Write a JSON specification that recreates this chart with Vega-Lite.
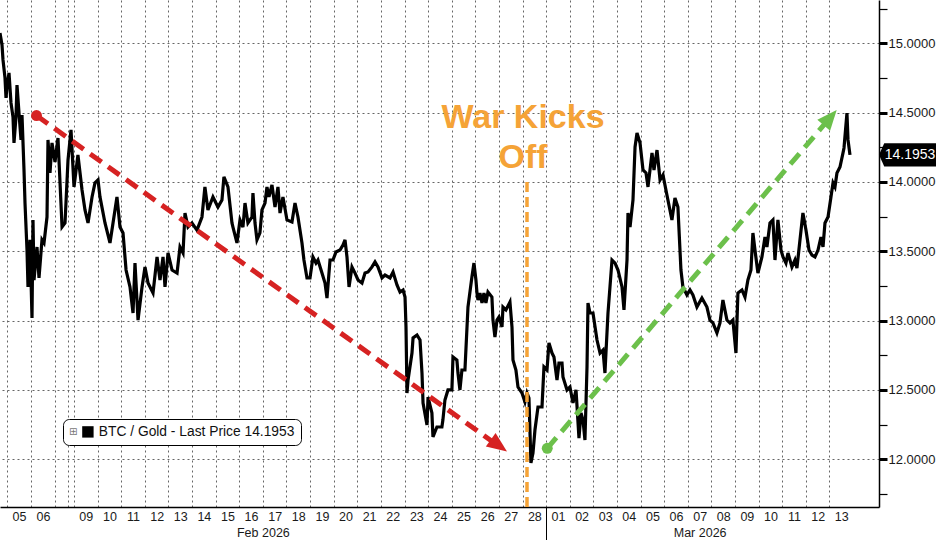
{
  "$schema": "https://vega.github.io/schema/vega-lite/v6.json",
  "width": 879,
  "height": 507,
  "padding": 0,
  "autosize": {"type": "pad"},
  "background": "white",
  "config": {"view": {"stroke": null}, "font": "Liberation Sans"},
  "datasets": {
    "btc": [
      {"t":"2026-02-04T17:00","v":15.074},{"t":"2026-02-04T19:00","v":14.988},{"t":"2026-02-04T20:00","v":14.880},{"t":"2026-02-04T22:00","v":14.750},{"t":"2026-02-04T23:00","v":14.606},
      {"t":"2026-02-05T00:00","v":14.685},{"t":"2026-02-05T02:00","v":14.786},{"t":"2026-02-05T04:00","v":14.570},{"t":"2026-02-05T06:00","v":14.469},{"t":"2026-02-05T07:00","v":14.281},
      {"t":"2026-02-05T09:00","v":14.469},{"t":"2026-02-05T10:00","v":14.699},{"t":"2026-02-05T12:00","v":14.497},{"t":"2026-02-05T14:00","v":14.303},{"t":"2026-02-05T15:00","v":14.483},
      {"t":"2026-02-05T17:00","v":14.086},{"t":"2026-02-05T18:00","v":13.848},{"t":"2026-02-05T20:00","v":13.509},{"t":"2026-02-05T21:00","v":13.243},{"t":"2026-02-05T23:00","v":13.582},
      {"t":"2026-02-06T01:00","v":13.019},{"t":"2026-02-06T02:00","v":13.726},{"t":"2026-02-06T03:00","v":13.293},{"t":"2026-02-06T06:00","v":13.531},{"t":"2026-02-06T08:00","v":13.308},
      {"t":"2026-02-06T11:00","v":13.582},{"t":"2026-02-06T13:00","v":13.560},{"t":"2026-02-06T16:00","v":13.747},{"t":"2026-02-06T17:00","v":14.303},{"t":"2026-02-06T19:00","v":14.065},
      {"t":"2026-02-06T21:00","v":14.281},{"t":"2026-02-07T00:00","v":14.144},{"t":"2026-02-07T05:30","v":14.317},{"t":"2026-02-07T13:00","v":13.675},{"t":"2026-02-07T18:30","v":13.704},
      {"t":"2026-02-08T00:00","v":14.158},{"t":"2026-02-08T12:00","v":14.375},{"t":"2026-02-09T00:00","v":13.964},
      {"t":"2026-02-09T04:00","v":14.194},{"t":"2026-02-09T08:10","v":13.942},{"t":"2026-02-09T11:10","v":13.798},{"t":"2026-02-09T14:15","v":13.704},{"t":"2026-02-09T18:20","v":13.892},{"t":"2026-02-09T21:20","v":13.993},
      {"t":"2026-02-10T00:25","v":14.014},{"t":"2026-02-10T02:25","v":13.892},{"t":"2026-02-10T07:30","v":13.704},{"t":"2026-02-10T12:35","v":13.560},{"t":"2026-02-10T15:40","v":13.704},{"t":"2026-02-10T19:40","v":13.892},{"t":"2026-02-10T22:45","v":13.675},
      {"t":"2026-02-11T01:50","v":13.632},{"t":"2026-02-11T04:55","v":13.365},{"t":"2026-02-11T08:55","v":13.243},{"t":"2026-02-11T12:00","v":13.055},{"t":"2026-02-11T14:00","v":13.415},{"t":"2026-02-11T17:05","v":13.004},{"t":"2026-02-11T21:10","v":13.243},
      {"t":"2026-02-12T00:10","v":13.387},{"t":"2026-02-12T03:15","v":13.271},{"t":"2026-02-12T08:20","v":13.199},{"t":"2026-02-12T12:25","v":13.459},{"t":"2026-02-12T15:25","v":13.293},{"t":"2026-02-12T18:30","v":13.459},{"t":"2026-02-12T20:30","v":13.243},{"t":"2026-02-12T23:35","v":13.488},
      {"t":"2026-02-13T03:40","v":13.365},{"t":"2026-02-13T08:45","v":13.343},{"t":"2026-02-13T11:45","v":13.531},{"t":"2026-02-13T14:50","v":13.488},{"t":"2026-02-13T16:50","v":13.776},{"t":"2026-02-13T19:55","v":13.675},{"t":"2026-02-13T23:55","v":13.704},
      {"t":"2026-02-14T05:00","v":13.653},{"t":"2026-02-14T10:05","v":13.747},{"t":"2026-02-14T13:05","v":13.964},{"t":"2026-02-14T16:10","v":13.798},{"t":"2026-02-14T21:15","v":13.892},
      {"t":"2026-02-15T02:20","v":13.819},{"t":"2026-02-15T06:25","v":13.870},{"t":"2026-02-15T08:25","v":14.036},{"t":"2026-02-15T12:30","v":13.964},{"t":"2026-02-15T16:35","v":13.704},{"t":"2026-02-15T17:35","v":13.675},{"t":"2026-02-15T21:40","v":13.560},
      {"t":"2026-02-16T00:45","v":13.726},{"t":"2026-02-16T03:45","v":13.675},{"t":"2026-02-16T05:50","v":13.848},{"t":"2026-02-16T08:50","v":13.704},{"t":"2026-02-16T12:55","v":13.747},{"t":"2026-02-16T13:55","v":13.920},{"t":"2026-02-16T16:00","v":13.704},{"t":"2026-02-16T18:00","v":13.582},{"t":"2026-02-16T21:00","v":13.632},{"t":"2026-02-16T23:05","v":13.798},
      {"t":"2026-02-17T02:10","v":13.848},{"t":"2026-02-17T04:10","v":13.964},{"t":"2026-02-17T06:10","v":13.892},{"t":"2026-02-17T09:15","v":13.978},{"t":"2026-02-17T12:20","v":13.819},{"t":"2026-02-17T15:20","v":13.964},{"t":"2026-02-17T17:25","v":13.776},{"t":"2026-02-17T20:25","v":13.892},
      {"t":"2026-02-18T00:30","v":13.726},{"t":"2026-02-18T05:35","v":13.711},{"t":"2026-02-18T08:40","v":13.848},{"t":"2026-02-18T11:40","v":13.747},{"t":"2026-02-18T15:45","v":13.560},{"t":"2026-02-18T17:45","v":13.437},{"t":"2026-02-18T20:50","v":13.308},{"t":"2026-02-18T23:55","v":13.308},
      {"t":"2026-02-19T02:55","v":13.459},{"t":"2026-02-19T06:00","v":13.415},{"t":"2026-02-19T08:00","v":13.437},{"t":"2026-02-19T12:05","v":13.343},{"t":"2026-02-19T15:10","v":13.271},{"t":"2026-02-19T17:10","v":13.163},{"t":"2026-02-19T20:15","v":13.437},{"t":"2026-02-19T23:15","v":13.437},
      {"t":"2026-02-20T02:20","v":13.495},{"t":"2026-02-20T06:25","v":13.509},{"t":"2026-02-20T09:25","v":13.545},{"t":"2026-02-20T11:30","v":13.582},{"t":"2026-02-20T13:30","v":13.459},{"t":"2026-02-20T15:35","v":13.243},{"t":"2026-02-20T18:35","v":13.387},{"t":"2026-02-20T21:40","v":13.343},
      {"t":"2026-02-21T00:45","v":13.293},{"t":"2026-02-21T04:45","v":13.271},{"t":"2026-02-21T07:50","v":13.343},{"t":"2026-02-21T10:55","v":13.351},{"t":"2026-02-21T14:55","v":13.387},{"t":"2026-02-21T18:00","v":13.423},{"t":"2026-02-21T21:00","v":13.387},
      {"t":"2026-02-22T01:05","v":13.308},{"t":"2026-02-22T04:10","v":13.329},{"t":"2026-02-22T09:15","v":13.308},{"t":"2026-02-22T12:20","v":13.351},{"t":"2026-02-22T16:20","v":13.257},{"t":"2026-02-22T19:25","v":13.206},{"t":"2026-02-22T22:30","v":13.221},
      {"t":"2026-02-23T00:30","v":13.170},{"t":"2026-02-23T01:30","v":12.954},{"t":"2026-02-23T02:30","v":12.478},{"t":"2026-02-23T03:35","v":12.572},{"t":"2026-02-23T07:35","v":12.766},{"t":"2026-02-23T08:40","v":12.875},{"t":"2026-02-23T12:40","v":12.896},{"t":"2026-02-23T15:45","v":12.860},{"t":"2026-02-23T17:45","v":12.622},{"t":"2026-02-23T18:50","v":12.406},{"t":"2026-02-23T22:50","v":12.247},{"t":"2026-02-23T23:55","v":12.449},
      {"t":"2026-02-24T03:50","v":12.334},{"t":"2026-02-24T04:55","v":12.161},{"t":"2026-02-24T08:55","v":12.233},{"t":"2026-02-24T14:00","v":12.233},{"t":"2026-02-24T15:00","v":12.283},{"t":"2026-02-24T17:05","v":12.428},{"t":"2026-02-24T20:10","v":12.500},
      {"t":"2026-02-25T00:10","v":12.500},{"t":"2026-02-25T01:15","v":12.738},{"t":"2026-02-25T05:15","v":12.716},{"t":"2026-02-25T06:20","v":12.622},{"t":"2026-02-25T08:20","v":12.500},{"t":"2026-02-25T10:20","v":12.644},{"t":"2026-02-25T13:25","v":12.644},{"t":"2026-02-25T16:30","v":13.098},{"t":"2026-02-25T20:30","v":13.315},{"t":"2026-02-25T22:35","v":13.415},
      {"t":"2026-02-26T00:35","v":13.293},{"t":"2026-02-26T01:40","v":13.199},{"t":"2026-02-26T02:40","v":13.149},{"t":"2026-02-26T04:40","v":13.199},{"t":"2026-02-26T06:45","v":13.127},{"t":"2026-02-26T08:45","v":13.199},{"t":"2026-02-26T10:45","v":13.127},{"t":"2026-02-26T12:50","v":13.206},{"t":"2026-02-26T16:50","v":13.170},{"t":"2026-02-26T17:55","v":13.004},{"t":"2026-02-26T19:55","v":12.882},{"t":"2026-02-26T22:00","v":13.004},
      {"t":"2026-02-27T00:00","v":13.026},{"t":"2026-02-27T03:05","v":12.954},{"t":"2026-02-27T04:05","v":13.098},{"t":"2026-02-27T07:05","v":13.077},{"t":"2026-02-27T11:10","v":13.134},{"t":"2026-02-27T13:15","v":12.954},{"t":"2026-02-27T14:15","v":12.716},{"t":"2026-02-27T17:15","v":12.644},{"t":"2026-02-27T19:20","v":12.521},{"t":"2026-02-27T23:25","v":12.478},
      {"t":"2026-02-28T02:25","v":12.413},{"t":"2026-02-28T04:30","v":12.478},{"t":"2026-02-28T06:30","v":12.442},{"t":"2026-02-28T08:30","v":11.973},{"t":"2026-02-28T10:35","v":12.045},{"t":"2026-02-28T12:35","v":12.211},{"t":"2026-02-28T15:40","v":12.377},{"t":"2026-02-28T19:45","v":12.377},{"t":"2026-02-28T21:45","v":12.666},
      {"t":"2026-03-01T00:50","v":12.644},{"t":"2026-03-01T02:50","v":12.839},{"t":"2026-03-01T05:55","v":12.766},{"t":"2026-03-01T07:55","v":12.738},{"t":"2026-03-01T11:00","v":12.572},{"t":"2026-03-01T13:00","v":12.694},{"t":"2026-03-01T16:05","v":12.694},{"t":"2026-03-01T17:05","v":12.593},{"t":"2026-03-01T21:10","v":12.500},
      {"t":"2026-03-02T00:10","v":12.521},{"t":"2026-03-02T03:15","v":12.406},{"t":"2026-03-02T06:20","v":12.500},{"t":"2026-03-02T09:20","v":12.153},{"t":"2026-03-02T11:25","v":12.334},{"t":"2026-03-02T13:25","v":12.283},{"t":"2026-03-02T15:25","v":12.139},{"t":"2026-03-02T17:30","v":12.666},{"t":"2026-03-02T18:30","v":13.127},{"t":"2026-03-02T20:30","v":13.055},{"t":"2026-03-02T23:35","v":13.055},
      {"t":"2026-03-03T03:40","v":12.860},{"t":"2026-03-03T06:45","v":12.766},{"t":"2026-03-03T09:45","v":12.788},{"t":"2026-03-03T11:45","v":12.622},{"t":"2026-03-03T14:50","v":13.055},{"t":"2026-03-03T18:55","v":13.437},{"t":"2026-03-03T22:00","v":13.415},
      {"t":"2026-03-04T01:00","v":13.365},{"t":"2026-03-04T05:05","v":13.243},{"t":"2026-03-04T07:05","v":13.077},{"t":"2026-03-04T10:10","v":13.437},{"t":"2026-03-04T11:10","v":13.776},{"t":"2026-03-04T13:15","v":13.675},{"t":"2026-03-04T16:15","v":13.870},{"t":"2026-03-04T18:20","v":14.252},{"t":"2026-03-04T20:20","v":14.353},{"t":"2026-03-04T23:25","v":14.281},
      {"t":"2026-03-05T02:25","v":14.086},{"t":"2026-03-05T05:30","v":14.065},{"t":"2026-03-05T07:30","v":13.964},{"t":"2026-03-05T11:35","v":14.209},{"t":"2026-03-05T13:35","v":14.086},{"t":"2026-03-05T16:40","v":14.230},{"t":"2026-03-05T19:45","v":14.014},{"t":"2026-03-05T22:45","v":14.050},
      {"t":"2026-03-06T02:45","v":13.906},{"t":"2026-03-06T07:50","v":13.726},{"t":"2026-03-06T10:55","v":13.884},{"t":"2026-03-06T13:55","v":13.819},{"t":"2026-03-06T17:00","v":13.365},{"t":"2026-03-06T19:00","v":13.243},{"t":"2026-03-06T23:05","v":13.185},
      {"t":"2026-03-07T02:10","v":13.221},{"t":"2026-03-07T05:10","v":13.185},{"t":"2026-03-07T09:15","v":13.098},{"t":"2026-03-07T14:20","v":13.163},{"t":"2026-03-07T19:25","v":13.098},{"t":"2026-03-07T22:30","v":13.004},
      {"t":"2026-03-08T01:30","v":12.983},{"t":"2026-03-08T05:35","v":12.911},{"t":"2026-03-08T08:40","v":12.983},{"t":"2026-03-08T11:40","v":13.149},{"t":"2026-03-08T15:45","v":13.004},{"t":"2026-03-08T18:50","v":12.983},{"t":"2026-03-08T21:50","v":13.004},
      {"t":"2026-03-09T00:55","v":12.766},{"t":"2026-03-09T02:55","v":13.199},{"t":"2026-03-09T07:00","v":13.221},{"t":"2026-03-09T10:05","v":13.170},{"t":"2026-03-09T13:05","v":13.293},{"t":"2026-03-09T16:10","v":13.365},{"t":"2026-03-09T18:10","v":13.632},{"t":"2026-03-09T20:15","v":13.509},{"t":"2026-03-09T23:15","v":13.343},
      {"t":"2026-03-10T03:20","v":13.459},{"t":"2026-03-10T06:25","v":13.603},{"t":"2026-03-10T08:25","v":13.531},{"t":"2026-03-10T11:30","v":13.704},{"t":"2026-03-10T14:30","v":13.726},{"t":"2026-03-10T16:35","v":13.437},{"t":"2026-03-10T19:35","v":13.726},{"t":"2026-03-10T22:40","v":13.509},
      {"t":"2026-03-11T00:45","v":13.459},{"t":"2026-03-11T03:45","v":13.415},{"t":"2026-03-11T05:50","v":13.488},{"t":"2026-03-11T09:50","v":13.387},{"t":"2026-03-11T12:55","v":13.437},{"t":"2026-03-11T14:55","v":13.379},{"t":"2026-03-11T18:00","v":13.582},{"t":"2026-03-11T21:00","v":13.776},
      {"t":"2026-03-12T00:05","v":13.653},{"t":"2026-03-12T03:10","v":13.509},{"t":"2026-03-12T06:10","v":13.473},{"t":"2026-03-12T09:15","v":13.459},{"t":"2026-03-12T12:20","v":13.509},{"t":"2026-03-12T15:20","v":13.603},{"t":"2026-03-12T17:25","v":13.531},{"t":"2026-03-12T19:25","v":13.704},{"t":"2026-03-12T22:30","v":13.747},
      {"t":"2026-03-13T01:30","v":13.892},{"t":"2026-03-13T03:35","v":13.993},{"t":"2026-03-13T05:35","v":13.964},{"t":"2026-03-13T07:35","v":14.065},{"t":"2026-03-13T10:40","v":14.108},{"t":"2026-03-13T13:45","v":14.209},{"t":"2026-03-13T14:45","v":14.245},{"t":"2026-03-13T17:45","v":14.497},{"t":"2026-03-13T18:50","v":14.303},{"t":"2026-03-13T20:50","v":14.1953}
    ],
    "arrows": [
      {"arrow":"red","part":"start","t":"2026-02-06T05:30","v":14.479},
      {"arrow":"red","part":"base","t":"2026-02-26T16:50","v":12.130},
      {"arrow":"red","part":"tip","t":"2026-02-27T08:10","v":12.057},
      {"arrow":"green","part":"start","t":"2026-03-01T01:05","v":12.079},
      {"arrow":"green","part":"base","t":"2026-03-12T19:25","v":14.420},
      {"arrow":"green","part":"tip","t":"2026-03-13T07:20","v":14.519}
    ],
    "events": [
      {"t":"2026-02-28T04:30","label":"War Kicks\nOff","lineTop":14.0,"labelAt":14.389}
    ],
    "last": [
      {"v":14.1953}
    ]
  },
  "encoding": {
    "x": {
      "field": "t",
      "type": "temporal",
      "scale": {
        "type": "time",
        "domain": {"expr": "[datetime(2026,1,4,17,0), datetime(2026,1,7,0,0), datetime(2026,1,8,0,0), datetime(2026,1,9,0,0), datetime(2026,2,15,2,20)]"},
        "range": [0, 55, 68, 74, 879],
        "nice": false
      },
      "axis": {
        "title": null,
        "orient": "bottom",
        "values": [
          {"year":2026,"month":2,"date":5},{"year":2026,"month":2,"date":6},{"year":2026,"month":2,"date":7},{"year":2026,"month":2,"date":8},{"year":2026,"month":2,"date":9},
          {"year":2026,"month":2,"date":10},{"year":2026,"month":2,"date":11},{"year":2026,"month":2,"date":12},{"year":2026,"month":2,"date":13},{"year":2026,"month":2,"date":14},
          {"year":2026,"month":2,"date":15},{"year":2026,"month":2,"date":16},{"year":2026,"month":2,"date":17},{"year":2026,"month":2,"date":18},{"year":2026,"month":2,"date":19},
          {"year":2026,"month":2,"date":20},{"year":2026,"month":2,"date":21},{"year":2026,"month":2,"date":22},{"year":2026,"month":2,"date":23},{"year":2026,"month":2,"date":24},
          {"year":2026,"month":2,"date":25},{"year":2026,"month":2,"date":26},{"year":2026,"month":2,"date":27},{"year":2026,"month":2,"date":28},
          {"year":2026,"month":3,"date":1},{"year":2026,"month":3,"date":2},{"year":2026,"month":3,"date":3},{"year":2026,"month":3,"date":4},{"year":2026,"month":3,"date":5},
          {"year":2026,"month":3,"date":6},{"year":2026,"month":3,"date":7},{"year":2026,"month":3,"date":8},{"year":2026,"month":3,"date":9},{"year":2026,"month":3,"date":10},
          {"year":2026,"month":3,"date":11},{"year":2026,"month":3,"date":12},{"year":2026,"month":3,"date":13},
          {"year":2026,"month":2,"date":5,"hours":12},{"year":2026,"month":2,"date":6,"hours":12},{"year":2026,"month":2,"date":9,"hours":12},{"year":2026,"month":2,"date":10,"hours":12},
          {"year":2026,"month":2,"date":11,"hours":12},{"year":2026,"month":2,"date":12,"hours":12},{"year":2026,"month":2,"date":13,"hours":12},{"year":2026,"month":2,"date":14,"hours":12},
          {"year":2026,"month":2,"date":15,"hours":12},{"year":2026,"month":2,"date":16,"hours":12},{"year":2026,"month":2,"date":17,"hours":12},{"year":2026,"month":2,"date":18,"hours":12},
          {"year":2026,"month":2,"date":19,"hours":12},{"year":2026,"month":2,"date":20,"hours":12},{"year":2026,"month":2,"date":21,"hours":12},{"year":2026,"month":2,"date":22,"hours":12},
          {"year":2026,"month":2,"date":23,"hours":12},{"year":2026,"month":2,"date":24,"hours":12},{"year":2026,"month":2,"date":25,"hours":12},{"year":2026,"month":2,"date":26,"hours":12},
          {"year":2026,"month":2,"date":27,"hours":12},{"year":2026,"month":2,"date":28,"hours":12},
          {"year":2026,"month":3,"date":1,"hours":12},{"year":2026,"month":3,"date":2,"hours":12},{"year":2026,"month":3,"date":3,"hours":12},{"year":2026,"month":3,"date":4,"hours":12},
          {"year":2026,"month":3,"date":5,"hours":12},{"year":2026,"month":3,"date":6,"hours":12},{"year":2026,"month":3,"date":7,"hours":12},{"year":2026,"month":3,"date":8,"hours":12},
          {"year":2026,"month":3,"date":9,"hours":12},{"year":2026,"month":3,"date":10,"hours":12},{"year":2026,"month":3,"date":11,"hours":12},{"year":2026,"month":3,"date":12,"hours":12},
          {"year":2026,"month":3,"date":13,"hours":12}
        ],
        "labelExpr": "hours(datum.value) === 0 ? ((month(datum.value) === 1 && date(datum.value) === 17) ? ['', 'Feb 2026'] : '') : ((month(datum.value) === 2 && date(datum.value) === 7) ? ['07', 'Mar 2026'] : timeFormat(datum.value, '%d'))",
        "labelFont": "Liberation Sans",
        "labelFontSize": 12.5,
        "labelColor": "#1a1a1a",
        "labelPadding": -30,
        "labelLineHeight": 16,
        "labelOverlap": false,
        "labelFlush": false,
        "labelBound": false,
        "labelAngle": 0,
        "domainColor": "#000000",
        "domainWidth": 1.5,
        "ticks": true,
        "tickSize": 33,
        "tickColor": "#000000",
        "tickWidth": 1,
        "tickOpacity": {"condition": {"test": "time(datum.value) === time(datetime(2026,2,1))", "value": 1}, "value": 0},
        "grid": true,
        "gridColor": "#666666",
        "gridDash": [2, 3],
        "gridWidth": 1,
        "gridOpacity": {"condition": {"test": "hours(datum.value) === 0", "value": 1}, "value": 0}
      }
    },
    "y": {
      "field": "v",
      "type": "quantitative",
      "scale": {"domain": [11.656, 15.312], "nice": false, "zero": false},
      "axis": {
        "title": null,
        "orient": "right",
        "values": [11.75, 12, 12.25, 12.5, 12.75, 13, 13.25, 13.5, 13.75, 14, 14.25, 14.5, 14.75, 15, 15.25],
        "labelExpr": "datum.value % 0.5 === 0 ? format(datum.value, '.4f') : ''",
        "labelFont": "Liberation Sans",
        "labelFontSize": 13,
        "labelColor": "#1a1a1a",
        "labelPadding": 1,
        "labelOverlap": false,
        "labelFlush": false,
        "labelBound": false,
        "domainColor": "#000000",
        "domainWidth": 1.5,
        "tickColor": "#000000",
        "tickSize": 8,
        "tickWidth": {"condition": {"test": "datum.value % 0.5 === 0", "value": 3}, "value": 1.2},
        "grid": true,
        "gridColor": "#666666",
        "gridDash": [2, 3],
        "gridWidth": 1,
        "gridOpacity": {"condition": {"test": "datum.value % 0.5 === 0 && datum.value >= 12 && datum.value <= 15", "value": 1}, "value": 0}
      }
    }
  },
  "layer": [
    {
      "data": {"name": "btc"},
      "mark": {"type": "line", "strokeWidth": 3.2, "clip": true},
      "encoding": {
        "color": {
          "datum": "BTC / Gold - Last Price 14.1953",
          "type": "nominal",
          "scale": {"range": ["#000000"]},
          "legend": {
            "title": "⊞",
            "titleOrient": "left",
            "titleFont": "DejaVu Sans",
            "titleFontSize": 10,
            "titleFontWeight": "normal",
            "titleColor": "#777777",
            "titlePadding": 3,
            "orient": "none",
            "legendX": 63,
            "legendY": 419,
            "padding": 6,
            "strokeColor": "#000000",
            "cornerRadius": 6,
            "fillColor": "#ffffff",
            "symbolType": "square",
            "symbolSize": 130,
            "symbolFillColor": "#000000",
            "symbolStrokeColor": "#000000",
            "symbolStrokeWidth": 0,
            "labelFont": "Liberation Sans",
            "labelFontSize": 13.8,
            "labelColor": "#111111",
            "labelLimit": 400,
            "labelOffset": 4
          }
        }
      }
    },
    {
      "data": {"name": "events"},
      "mark": {"type": "rule", "color": "#F5A337", "strokeWidth": 3.5, "strokeDash": [10, 5]},
      "encoding": {
        "y": {"field": "lineTop", "type": "quantitative"},
        "y2": {"value": "height"}
      }
    },
    {
      "data": {"name": "events"},
      "mark": {"type": "text", "font": "Liberation Sans", "fontWeight": "bold", "fontSize": 34, "color": "#F5A337", "align": "center", "baseline": "alphabetic", "lineBreak": "\n", "lineHeight": 40, "dx": -4},
      "encoding": {
        "y": {"field": "labelAt", "type": "quantitative"},
        "text": {"field": "label", "type": "nominal"}
      }
    },
    {
      "data": {"name": "arrows"},
      "transform": [{"filter": "datum.arrow === 'red' && datum.part !== 'tip'"}],
      "mark": {"type": "line", "color": "#D62222", "strokeWidth": 5, "strokeDash": [14, 8], "strokeCap": "butt"},
      "encoding": {}
    },
    {
      "data": {"name": "arrows"},
      "transform": [{"filter": "datum.arrow === 'green' && datum.part !== 'tip'"}],
      "mark": {"type": "line", "color": "#6CC04B", "strokeWidth": 5, "strokeDash": [14, 8], "strokeCap": "butt"},
      "encoding": {}
    },
    {
      "data": {"name": "arrows"},
      "transform": [{"filter": "datum.part === 'start'"}],
      "mark": {"type": "point", "shape": "circle", "filled": true, "size": 120, "opacity": 1},
      "encoding": {
        "fill": {"condition": {"test": "datum.arrow === 'red'", "value": "#D62222"}, "value": "#6CC04B"}
      }
    },
    {
      "data": {"name": "arrows"},
      "transform": [{"filter": "datum.arrow === 'red' && datum.part === 'tip'"}],
      "mark": {"type": "point", "shape": "M0,0L-1,-0.42L-1,0.42Z", "filled": true, "size": 1600, "color": "#D62222", "opacity": 1, "angle": 35.5},
      "encoding": {}
    },
    {
      "data": {"name": "arrows"},
      "transform": [{"filter": "datum.arrow === 'green' && datum.part === 'tip'"}],
      "mark": {"type": "point", "shape": "M0,0L-1,-0.42L-1,0.42Z", "filled": true, "size": 1600, "color": "#6CC04B", "opacity": 1, "angle": -49.5},
      "encoding": {}
    },
    {
      "data": {"name": "last"},
      "mark": {"type": "point", "shape": "M0,0L0.18,-0.4L2,-0.4L2,0.4L0.18,0.4Z", "filled": true, "size": 3364, "color": "#000000", "opacity": 1},
      "encoding": {
        "x": {"value": "width"}
      }
    },
    {
      "data": {"name": "last"},
      "mark": {"type": "text", "font": "Liberation Sans", "fontSize": 14, "color": "#ffffff", "align": "center", "baseline": "middle", "dx": 31},
      "encoding": {
        "x": {"value": "width"},
        "text": {"field": "v", "type": "quantitative", "format": ".4f"}
      }
    }
  ]
}
